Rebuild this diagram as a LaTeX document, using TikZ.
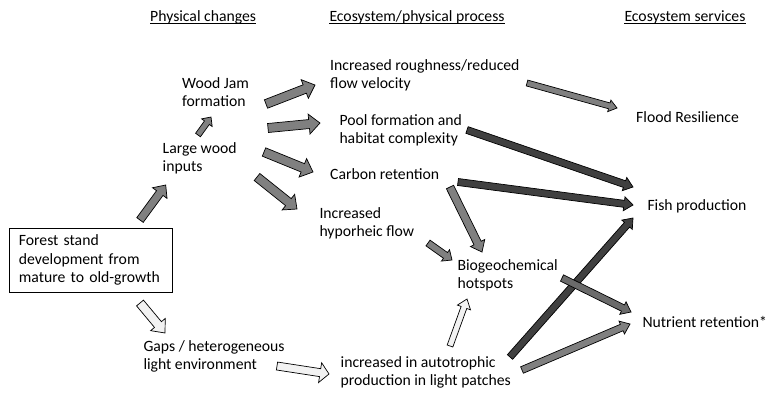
\documentclass[tikz,border=0pt]{standalone}
\usepackage{fontspec}
\setmainfont{Carlito}
\usetikzlibrary{calc}
\definecolor{midgray}{gray}{0.5}
\definecolor{darkgray2}{gray}{0.25}
\definecolor{lightgray2}{gray}{0.95}
\definecolor{nutgray}{gray}{0.42}
\tikzset{
  txt/.style={inner sep=0pt, anchor=base west, align=left},
  hdr/.style={inner sep=0pt, anchor=base west},
  barrow/.style={draw=black, line width=0.7pt, line join=miter},
}
\newcommand{\blockarrow}[6]{%
  \draw[barrow, fill=#1] let \p1=(#2), \p2=(#3), \n1={atan2(\y2-\y1,\x2-\x1)} in
   ($(\p1)+(\n1+90:#4pt)$) -- ($(\p2)+(\n1+180:#6pt)+(\n1+90:#4pt)$) --
   ($(\p2)+(\n1+180:#6pt)+(\n1+90:#5pt)$) -- (\p2) --
   ($(\p2)+(\n1+180:#6pt)+(\n1-90:#5pt)$) -- ($(\p2)+(\n1+180:#6pt)+(\n1-90:#4pt)$) --
   ($(\p1)+(\n1-90:#4pt)$) -- cycle;
}
\begin{document}
\begin{tikzpicture}[x=1pt, y=-1pt, every node/.append style={font=\fontsize{15.7}{18}\selectfont}]
\useasboundingbox[fill=white] (0,0) rectangle (767,392);

% headers
\node[hdr] (h1) at (150,21.5) {Physical changes};
\node[hdr] (h2) at (329.3,21.5) {Ecosystem/physical process};
\node[hdr] (h3) at (624.3,21.5) {Ecosystem services};
\foreach \h in {h1,h2,h3}{
  \draw[line width=0.6pt] ($(\h.base west)+(0,2)$) -- ($(\h.base east)+(0,2)$);
}

% text nodes (multi-line nodes placed by the baseline of their last line)
\node[draw=black, line width=0.8pt, anchor=north west, text width=143.5pt,
      inner xsep=10pt, inner ysep=6.4pt, align=left,
      font=\fontsize{15.7}{18.8}\selectfont] (forest) at (8.5,227.5)
      {Forest stand\\development from\\mature to old-growth};
\node[txt] (woodjam) at (182,106) {Wood Jam\\formation};
\node[txt] (largewood) at (162.5,171) {Large wood\\inputs};
\node[txt] (gaps) at (143.3,369.7) {Gaps / heterogeneous\\light environment};
\node[txt] (rough) at (330,88.7) {Increased roughness/reduced\\flow velocity};
\node[txt] (pool) at (339.3,143.7) {Pool formation and\\habitat complexity};
\node[txt] (carbon) at (330,179.2) {Carbon retention};
\node[txt] (hypo) at (319.3,236.3) {Increased\\hyporheic flow};
\node[txt] (biogeo) at (457.3,288.5) {Biogeochemical\\hotspots};
\node[txt] (auto) at (340.5,385.3) {increased in autotrophic\\production in light patches};
\node[txt] (flood) at (636,122.3) {Flood Resilience};
\node[txt] (fish) at (647.3,210) {Fish production};
\node[txt] (nutrient) at (642.3,327.7) {Nutrient retention*};

% arrow end points
\coordinate (a1s) at (140,220);   \coordinate (a1e) at (165.7,185);
\coordinate (a2s) at (198,135);   \coordinate (a2e) at (211,117);
\coordinate (a3s) at (266,104);   \coordinate (a3e) at (315,85);
\coordinate (a4s) at (268,128);   \coordinate (a4e) at (320,123);
\coordinate (a5s) at (264,152);   \coordinate (a5e) at (313,172);
\coordinate (a6s) at (257,177);   \coordinate (a6e) at (297,209);
\coordinate (a7s) at (527,83);    \coordinate (a7e) at (617,108);
\coordinate (a8s) at (467,130);   \coordinate (a8e) at (633,187);
\coordinate (a9s) at (458,182);   \coordinate (a9e) at (633,205);
\coordinate (a10s) at (450,187);  \coordinate (a10e) at (482,252);
\coordinate (a11s) at (428,243);  \coordinate (a11e) at (452,260);
\coordinate (a12s) at (140,303);  \coordinate (a12e) at (165,333);
\coordinate (a13s) at (277,366);  \coordinate (a13e) at (329,374);
\coordinate (a14s) at (450,346);  \coordinate (a14e) at (467,299);
\coordinate (a15s) at (510,357);  \coordinate (a15e) at (633,218);
\coordinate (a16s) at (522,370);  \coordinate (a16e) at (630,324);
\coordinate (a17s) at (562,278);  \coordinate (a17e) at (631,312);

% block arrows
\blockarrow{midgray}{a1s}{a1e}{4}{9}{10}
\blockarrow{midgray}{a2s}{a2e}{3}{6.5}{7}
\blockarrow{midgray}{a3s}{a3e}{4.5}{10}{11}
\blockarrow{midgray}{a4s}{a4e}{4.5}{10}{11}
\blockarrow{midgray}{a5s}{a5e}{4.5}{10}{11}
\blockarrow{midgray}{a6s}{a6e}{4.5}{10}{11}
\blockarrow{midgray}{a7s}{a7e}{3}{6}{8}
\blockarrow{darkgray2}{a8s}{a8e}{3.5}{7}{9}
\blockarrow{darkgray2}{a9s}{a9e}{3.5}{7}{9}
\blockarrow{midgray}{a10s}{a10e}{4}{8}{10}
\blockarrow{midgray}{a11s}{a11e}{3.5}{7}{8}
\blockarrow{lightgray2}{a12s}{a12e}{4.5}{9.5}{11}
\blockarrow{lightgray2}{a13s}{a13e}{4}{10}{9}
\blockarrow{lightgray2}{a14s}{a14e}{3}{7}{9}
\blockarrow{darkgray2}{a15s}{a15e}{3.5}{7}{9}
\blockarrow{midgray}{a16s}{a16e}{3.5}{7}{9}
\blockarrow{nutgray}{a17s}{a17e}{3.5}{7}{9}
\end{tikzpicture}
\end{document}
